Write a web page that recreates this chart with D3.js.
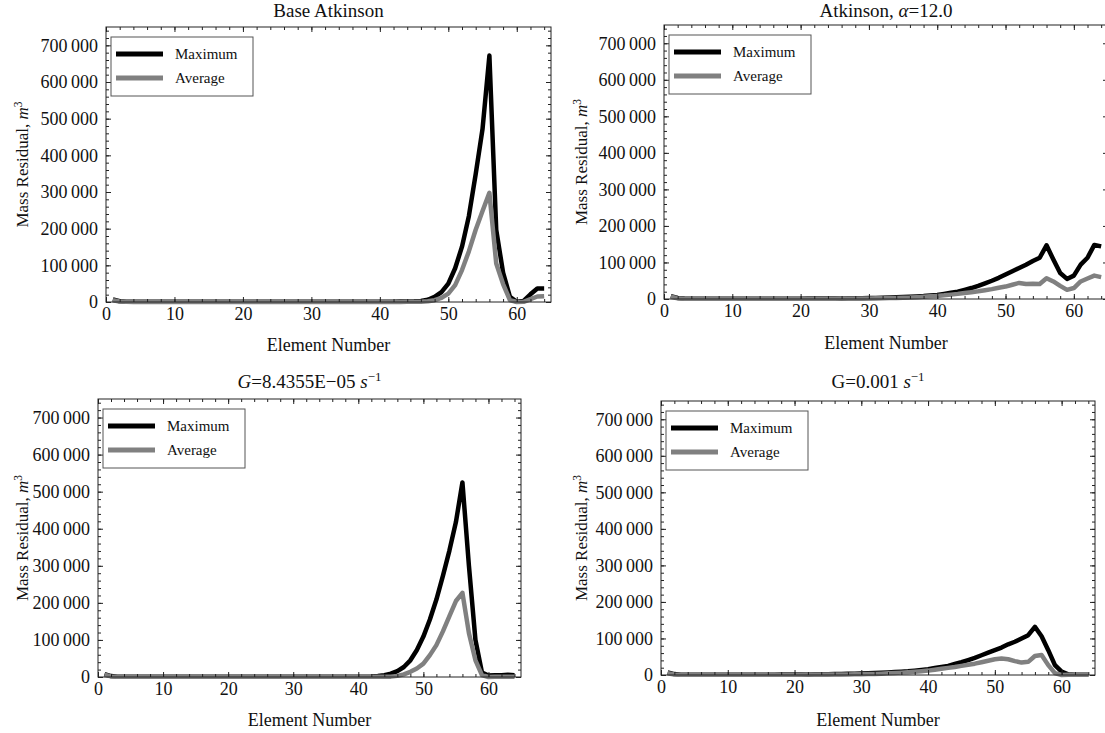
<!DOCTYPE html>
<html>
<head>
<meta charset="utf-8">
<script src="https://cdn.jsdelivr.net/npm/d3@7"></script>
<style>
  body { margin: 0; background: #fff; }
  svg, svg text { font-family: "Liberation Serif", "Times New Roman", serif !important; }
</style>
</head>
<body>
<svg id="chart" width="1105" height="733"></svg>
<script>
// element numbers 1..64
const elements = [1,2,3,4,5,6,7,8,9,10,11,12,13,14,15,16,17,18,19,20,21,22,23,24,25,26,27,28,29,30,
  31,32,33,34,35,36,37,38,39,40,41,42,43,44,45,46,47,48,49,50,51,52,53,54,55,56,57,58,59,60,61,62,63,64];

// Base Atkinson
const baseMax = [7000,2000,800,600,500,500,500,500,500,500, 500,500,500,500,500,500,500,500,500,500,
  500,500,500,500,500,500,500,500,500,500, 500,500,500,500,500,500,500,500,600,700,
  900,1000,1200,1500,1800,3000,6000,14000,27000,50000, 92000,151000,234000,349000,472000,672000,197000,80000,14000,500,
  3000,21000,37000,37000];
const baseAvg = [5000,1500,500,300,300,300,300,300,300,300, 300,300,300,300,300,300,300,300,300,300,
  300,300,300,300,300,300,300,300,300,300, 300,300,300,300,300,300,300,300,300,300,
  300,300,300,400,500,1000,2000,5000,11000,23000, 46000,87000,138000,197000,248000,298000,105000,49000,5000,0,
  500,8000,15000,16000];

// Atkinson, alpha = 12.0
const atkMax = [8000,3000,1500,1000,800,800,800,800,800,800, 800,800,800,800,800,1000,1000,1000,1000,1000,
  1200,1200,1300,1400,1500,1700,1900,2100,2300,2500, 3000,3500,4000,4500,5200,6000,7000,8000,9500,11000,
  14000,17000,20000,25000,30000,36000,43000,50000,58000,67000, 76000,85000,94000,104000,113000,147000,108000,71000,55000,64000,
  94000,113000,148000,144000];
const atkAvg = [6000,2000,1000,700,600,600,600,600,600,600, 600,600,600,600,600,700,700,700,700,800,
  800,900,900,1000,1000,1100,1200,1300,1400,1500, 1800,2200,2600,3000,3500,4000,5000,6000,7200,8500,
  10000,12000,14000,16500,18500,21000,24000,27000,31000,34000, 39000,44000,41000,42000,41000,57000,48000,36000,25000,30000,
  48000,56000,64000,60000];

// G = 8.4355E-05 s^-1
const gMax = [8000,2500,1000,800,700,700,700,700,700,700, 700,700,700,700,700,700,700,700,700,700,
  700,700,700,700,700,700,700,700,700,700, 700,700,700,700,700,700,700,800,800,900,
  1000,1500,3000,5000,9000,16000,27000,45000,73000,109000, 155000,209000,273000,341000,418000,525000,300000,100000,12000,4000,
  5000,5000,6000,5000];
const gAvg = [6000,1500,500,400,400,400,400,400,400,400, 400,400,400,400,400,400,400,400,400,400,
  400,400,400,400,400,400,400,400,400,400, 400,400,400,400,400,400,400,400,400,400,
  400,400,500,700,1000,3000,7000,14000,23000,36000, 59000,86000,123000,164000,205000,227000,118000,45000,5000,0,
  1000,1000,1000,1000];

// G = 0.001 s^-1
const g2Max = [7000,2500,1000,700,700,700,600,600,600,700, 800,800,900,900,1000,1000,1000,1100,1100,1200,
  1400,1600,1800,2000,2200,2500,2900,3300,3700,4200, 4700,5300,6000,7000,8000,9000,10000,12000,14000,16000,
  19000,22000,25000,30000,35000,41000,47000,54000,61000,68000, 75000,84000,91000,100000,109000,132000,106000,68000,27000,9000,
  2000,1000,1000,1000];
const g2Avg = [5000,1500,600,500,500,500,500,500,500,500, 500,500,600,600,600,700,700,800,800,900,
  1000,1100,1200,1300,1400,1500,1600,1700,1800,2000, 2400,3000,3700,4500,5500,6500,7700,9000,10500,12000,
  14500,17000,19500,22000,25000,28000,31000,35000,39000,43000, 45000,43000,38000,34000,36000,52000,55000,27000,5000,0,
  500,500,500,500];

const xTicks = [0, 10, 20, 30, 40, 50, 60];
const yTicks = [0, 100000, 200000, 300000, 400000, 500000, 600000, 700000];
const seriesNames = ['Maximum', 'Average'];

const panels = [
  { title: [{t: 'Base Atkinson'}], max: baseMax, avg: baseAvg,
    left: 106, right: 551, top: 27, bottom: 302, yLab: 22, titleY: 17, xLabY: 351 },
  { title: [{t: 'Atkinson, '}, {t: 'α', i: true}, {t: '=12.0'}], max: atkMax, avg: atkAvg,
    left: 664, right: 1108, top: 25, bottom: 299, yLab: 581, titleY: 17, xLabY: 349 },
  { title: [{t: 'G', i: true}, {t: '=8.4355E\u221205 '}, {t: 's', i: true}, {t: '\u22121', sup: true}], max: gMax, avg: gAvg,
    left: 98, right: 521, top: 399, bottom: 677, yLab: 22, titleY: 388, xLabY: 726 },
  { title: [{t: 'G=0.001 '}, {t: 's', i: true}, {t: '\u22121', sup: true}], max: g2Max, avg: g2Avg,
    left: 661, right: 1095, top: 401, bottom: 675, yLab: 581, titleY: 388, xLabY: 726 }
];

const svg = d3.select('#chart');
const fmt = v => d3.format(',')(v).replace(/,/g, '\u2009');

function addRich(textSel, parts) {
  parts.forEach(p => {
    const ts = textSel.append('tspan').text(p.t);
    if (p.i) ts.attr('font-style', 'italic');
    if (p.sup) ts.attr('font-size', '0.68em').attr('dy', '-0.55em');
  });
}

function drawPanel(p) {
  const x = d3.scaleLinear().domain([0, 65]).range([p.left, p.right]);
  const y = d3.scaleLinear().domain([0, 750000]).range([p.bottom, p.top]);
  const g = svg.append('g');

  const line = d3.line()
    .x((d, i) => x(elements[i]))
    .y(d => y(d));

  g.append('path').datum(p.max)
    .attr('d', line).attr('fill', 'none').attr('stroke', '#000')
    .attr('stroke-width', 4.5).attr('stroke-linejoin', 'round');
  g.append('path').datum(p.avg)
    .attr('d', line).attr('fill', 'none').attr('stroke', '#808080')
    .attr('stroke-width', 4.5).attr('stroke-linejoin', 'round');

  // frame
  g.append('rect')
    .attr('x', p.left).attr('y', p.top)
    .attr('width', p.right - p.left).attr('height', p.bottom - p.top)
    .attr('fill', 'none').attr('stroke', '#222').attr('stroke-width', 1);

  const minorX = d3.range(0, 66, 2);
  const minorY = d3.range(0, 750001, 20000);
  const axes = [
    [d3.axisBottom(x).tickValues(xTicks).tickSizeInner(-5).tickSizeOuter(0).tickPadding(5).tickFormat(d3.format('d')), p.bottom, 0],
    [d3.axisBottom(x).tickValues(minorX).tickSizeInner(-3).tickSizeOuter(0).tickFormat(''), p.bottom, 0],
    [d3.axisTop(x).tickValues(xTicks).tickSizeInner(-5).tickSizeOuter(0).tickFormat(''), p.top, 0],
    [d3.axisTop(x).tickValues(minorX).tickSizeInner(-3).tickSizeOuter(0).tickFormat(''), p.top, 0],
    [d3.axisLeft(y).tickValues(yTicks).tickSizeInner(-5).tickSizeOuter(0).tickPadding(8).tickFormat(fmt), 0, p.left],
    [d3.axisLeft(y).tickValues(minorY).tickSizeInner(-3).tickSizeOuter(0).tickFormat(''), 0, p.left],
    [d3.axisRight(y).tickValues(yTicks).tickSizeInner(-5).tickSizeOuter(0).tickFormat(''), 0, p.right],
    [d3.axisRight(y).tickValues(minorY).tickSizeInner(-3).tickSizeOuter(0).tickFormat(''), 0, p.right]
  ];
  axes.forEach(([ax, ty, tx]) => {
    const a = g.append('g').attr('transform', `translate(${tx},${ty})`).call(ax)
      .attr('font-family', null).attr('font-size', null);
    a.select('.domain').remove();
    a.selectAll('line').attr('stroke', '#222');
    a.selectAll('text').attr('font-size', 18).attr('fill', '#111');
  });

  // title
  const tt = g.append('text').attr('x', (p.left + p.right) / 2).attr('y', p.titleY)
    .attr('text-anchor', 'middle').attr('font-size', 19).attr('fill', '#111');
  addRich(tt, p.title);

  // x label
  g.append('text').attr('x', (p.left + p.right) / 2).attr('y', p.xLabY)
    .attr('text-anchor', 'middle').attr('font-size', 18).attr('fill', '#111')
    .text('Element Number');

  // y label
  const yl = g.append('text')
    .attr('transform', `translate(${p.yLab},${(p.top + p.bottom) / 2}) rotate(-90)`)
    .attr('text-anchor', 'middle').attr('dy', '0.35em').attr('font-size', 17).attr('fill', '#111');
  addRich(yl, [{t: 'Mass Residual, '}, {t: 'm', i: true}, {t: '3', sup: true}]);

  // legend
  const lx = p.left + 5, ly = p.top + 10;
  const lg = g.append('g');
  lg.append('rect').attr('x', lx).attr('y', ly).attr('width', 142).attr('height', 59)
    .attr('fill', '#fff').attr('stroke', '#555').attr('stroke-width', 1);
  seriesNames.forEach((name, i) => {
    const yy = ly + 17 + i * 24;
    lg.append('line').attr('x1', lx + 5).attr('x2', lx + 52).attr('y1', yy).attr('y2', yy)
      .attr('stroke', i === 0 ? '#000' : '#808080').attr('stroke-width', 5);
    lg.append('text').attr('x', lx + 64).attr('y', yy).attr('dy', '0.3em')
      .attr('font-size', 15).attr('fill', '#111').text(name);
  });
}

panels.forEach(drawPanel);
</script>
</body>
</html>
